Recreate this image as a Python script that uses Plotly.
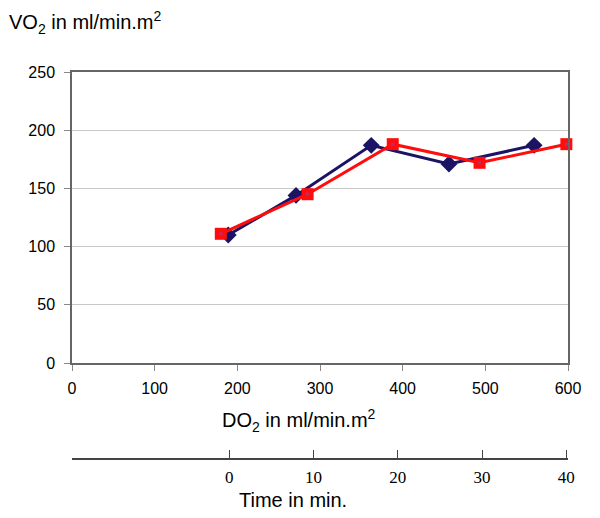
import plotly.graph_objects as go

# DO2 (ml/min.m2) vs VO2 (ml/min.m2)
blue_do2 = [189, 271, 362, 456, 559]
blue_vo2 = [110, 144, 187, 171, 187]
red_do2 = [180, 285, 388, 493, 598]
red_vo2 = [111, 145, 188, 172, 188]

x_ticks = [0, 100, 200, 300, 400, 500, 600]
y_ticks = [0, 50, 100, 150, 200, 250]
time_ticks = [0, 10, 20, 30, 40]

OFF = 8  # browser body margin
W, H = 600 - OFF, 518 - OFF


def px(v):
    return v - OFF


ML, MR, MT = px(66), W - px(570), px(72)
MB = H - px(459)
pw = W - ML - MR
ph = H - MT - MB

sans = "Liberation Sans, Arial, sans-serif"
serif = "Liberation Serif, Times New Roman, serif"

fig = go.Figure()
fig.add_trace(go.Scatter(
    x=blue_do2, y=blue_vo2, mode="lines+markers",
    line=dict(color="#1b1464", width=3),
    marker=dict(symbol="diamond", size=13, color="#1b1464"),
    showlegend=False, cliponaxis=False))
fig.add_trace(go.Scatter(
    x=red_do2, y=red_vo2, mode="lines+markers",
    line=dict(color="#ff0d0d", width=3),
    marker=dict(symbol="square", size=12, color="#ff0d0d"),
    showlegend=False, cliponaxis=False))
fig.add_trace(go.Scatter(
    x=red_do2, y=red_vo2, mode="markers",
    marker=dict(symbol="square", size=3, color="#b03080"),
    showlegend=False, cliponaxis=False, hoverinfo="skip"))
# invisible trace to instantiate time axis
fig.add_trace(go.Scatter(x=time_ticks, y=[None]*len(time_ticks), xaxis="x2", yaxis="y",
                         mode="markers", showlegend=False, hoverinfo="skip"))

fig.update_layout(
    width=W, height=H,
    margin=dict(l=ML, r=MR, t=MT, b=MB, pad=0),
    paper_bgcolor="white", plot_bgcolor="white",
    font=dict(family=sans, size=16, color="black"),
    xaxis=dict(
        domain=[(px(72) - ML) / pw, (px(568) - ML) / pw],
        range=[0, 600], tickvals=x_ticks, ticks="outside", ticklen=6,
        tickcolor="#888", showline=True, linecolor="#666", linewidth=1.5,
        mirror=True, showgrid=False, zeroline=False,
        tickfont=dict(family=sans, size=16), ticklabelstandoff=4,
        anchor="y"),
    yaxis=dict(
        domain=[(H - MB - px(363)) / ph, 1],
        range=[0, 250], tickvals=y_ticks, ticks="outside", ticklen=6,
        tickcolor="#888", showline=True, linecolor="#666", linewidth=1.5,
        mirror=True, showgrid=True, gridcolor="#c8c8c8", gridwidth=1,
        zeroline=False, tickfont=dict(family=sans, size=16),
        ticklabelstandoff=6),
    xaxis2=dict(
        domain=[0, 1], anchor="free", position=0, overlaying="x",
        side="bottom",
        range=[(66 - 225.7) / 8.565, 40 + (570 - 568.3) / 8.565],
        tickvals=time_ticks, ticks="inside", ticklen=8, tickcolor="#444",
        tickwidth=1.2,
        showline=True, linecolor="#444", linewidth=1.5, showgrid=False,
        zeroline=False, tickfont=dict(family=serif, size=17),
        ticklabelstandoff=3),
    annotations=[
        dict(text="VO<sub>2</sub> in ml/min.m<sup>2</sup>", xref="paper", yref="paper",
             x=(px(7) - ML) / pw, y=(H - MB - px(22)) / ph, xanchor="left", yanchor="middle",
             showarrow=False, font=dict(family=sans, size=20)),
        dict(text="DO<sub>2</sub> in ml/min.m<sup>2</sup>", xref="paper", yref="paper",
             x=(px(220) - ML) / pw, y=(H - MB - px(420)) / ph, xanchor="left", yanchor="middle",
             showarrow=False, font=dict(family=sans, size=20)),
        dict(text="Time in min.", xref="paper", yref="paper",
             x=(px(237) - ML) / pw, y=(H - MB - px(500)) / ph, xanchor="left", yanchor="middle",
             showarrow=False, font=dict(family=sans, size=20)),
    ],
)

fig.write_html("out.html")
